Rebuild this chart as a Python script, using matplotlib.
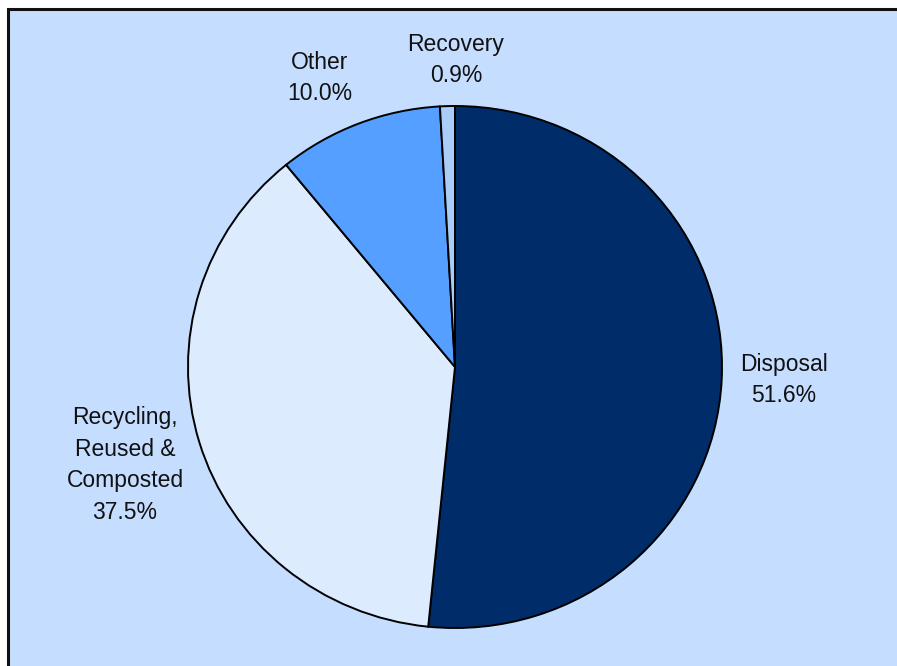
import matplotlib
matplotlib.use("Agg")
import matplotlib.pyplot as plt
from matplotlib.patches import Rectangle

categories = ["Disposal", "Recycling,\nReused &\nComposted", "Other", "Recovery"]
shares = [51.6, 37.5, 10.0, 0.9]
colors = ["#002D69", "#DDEBFF", "#549FFF", "#A9CCF8"]

W, H = 897, 666
fig = plt.figure(figsize=(W / 100, H / 100), dpi=100)
fig.patch.set_facecolor("white")

# chart area panel with dark frame on the top/left edges
bg = fig.add_axes([0, 0, 1, 1], zorder=-5)
bg.set_xlim(0, W)
bg.set_ylim(H, 0)
bg.axis("off")
bg.add_patch(Rectangle((8, 8.5), W + 20, H + 20, facecolor="#C5DDFF",
                       edgecolor="#111111", linewidth=2.2))

cx, cy = 455, H - 367
rx, ry = 267, 261
span = 1.25
ax = fig.add_axes([(cx - rx * span) / W, (cy - ry * span) / H,
                   2 * rx * span / W, 2 * ry * span / H], zorder=1)
ax.patch.set_alpha(0)

wedges, _ = ax.pie(shares, colors=colors, startangle=90, counterclock=False,
                   radius=1.0,
                   wedgeprops=dict(edgecolor="black", linewidth=1.4))
ax.set_aspect("auto")
ax.set_xlim(-span, span)
ax.set_ylim(-span, span)
ax.axis("off")

# label positions in pixel space
label_px = [(784, 380), (125, 465), (320, 78), (456, 60)]
font = dict(family=["Liberation Sans", "DejaVu Sans"], fontsize=16.5,
            color="#111111", ha="center", va="center", linespacing=1.47)
for name, val, (px, py) in zip(categories, shares, label_px):
    bg.text(px, py, f"{name}\n{val:.1f}%", **font)

fig.savefig("out.png", dpi=100, facecolor=fig.get_facecolor())
